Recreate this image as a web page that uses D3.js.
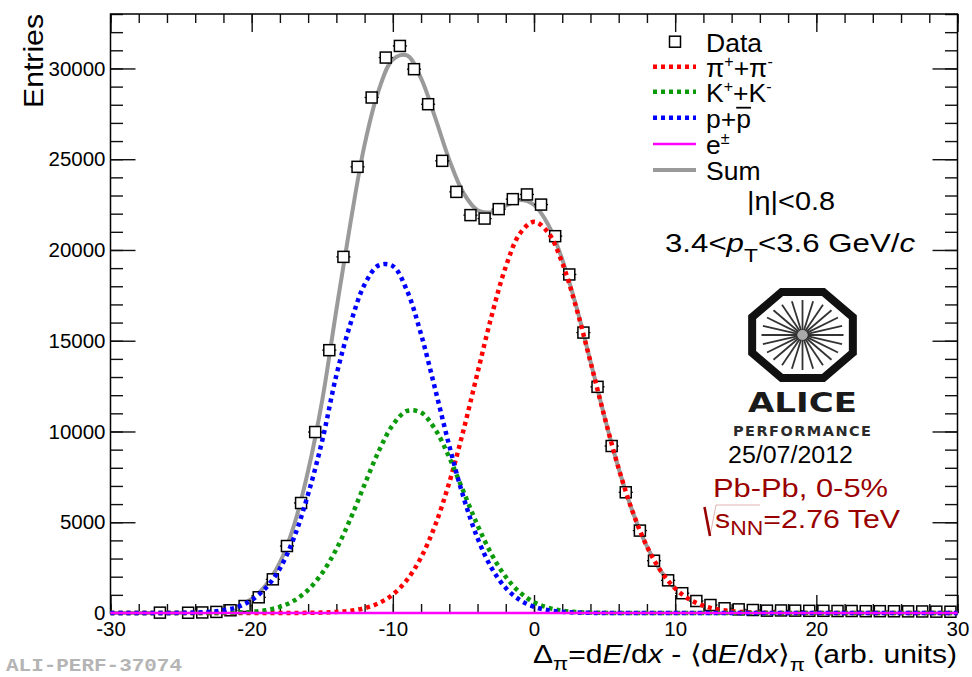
<!DOCTYPE html>
<html>
<head>
<meta charset="utf-8">
<script src="https://cdn.jsdelivr.net/npm/d3@7"></script>
<style>
body { margin: 0; background: #fff; }
</style>
</head>
<body>
<div id="chart"></div>
<script>
// measured histogram: bin centres and entries
const dataX = [-26.5, -24.5, -23.5, -22.5, -21.5, -20.5, -19.5, -18.5, -17.5, -16.5,
    -15.5, -14.5, -13.5, -12.5, -11.5, -10.5, -9.5, -8.5, -7.5, -6.5,
    -5.5, -4.5, -3.5, -2.5, -1.5, -0.5, 0.5, 1.5, 2.5, 3.5,
    4.5, 5.5, 6.5, 7.5, 8.5, 9.5, 10.5, 11.5, 12.5, 13.5,
    14.5, 15.5, 16.5, 17.5, 18.5, 19.5, 20.5, 21.5, 22.5, 23.5,
    24.5, 25.5, 26.5, 27.5, 28.5, 29.5];
const dataY = [20, 15, 30, 60, 150, 385, 865, 1855, 3690, 6060,
    9970, 14480, 19620, 24580, 28400, 30600, 31240, 29960, 28030, 24910,
    23200, 21920, 21730, 22250, 22800, 23060, 22500, 20760, 18650, 15450,
    12460, 9200, 6650, 4540, 2880, 1800, 1090, 660, 440, 260,
    200, 165, 130, 140, 130, 120, 120, 110, 110, 100,
    100, 95, 90, 85, 75, 70];

const fitX = [-30, -29, -28, -27, -26, -25, -24, -23, -22, -21,
    -20, -19, -18, -17, -16, -15, -14, -13, -12, -11,
    -10, -9, -8, -7, -6, -5, -4, -3, -2, -1,
    0, 1, 2, 3, 4, 5, 6, 7, 8, 9,
    10, 11, 12, 13, 14, 15, 16, 17, 18, 19,
    20, 21, 22, 23, 24, 25, 26, 27, 28, 29, 30];
const pionY = [0, 0, 0, 0, 0, 0, 0, 0, 0, 0,
    0, 0, 0, 3, 9, 23, 55, 125, 267, 539,
    1021, 1823, 3062, 4838, 7191, 10057, 13232, 16378, 19076, 20903,
    21550, 20962, 19292, 16798, 13839, 10786, 7956, 5551, 3666, 2289,
    1353, 756, 400, 200, 95, 42, 18, 8, 0, 0,
    0, 0, 0, 0, 0, 0, 0, 0, 0, 0, 0];
const kaonY = [0, 0, 0, 0, 0, 0, 0, 3, 9, 25,
    65, 153, 336, 681, 1275, 2205, 3521, 5195, 7080, 8912,
    10362, 11129, 11041, 10118, 8565, 6697, 4836, 3227, 1988, 1132,
    595, 289, 130, 54, 21, 8, 0, 0, 0, 0,
    0, 0, 0, 0, 0, 0, 0, 0, 0, 0,
    0, 0, 0, 0, 0, 0, 0, 0, 0, 0, 0];
const protonY = [0, 0, 0, 0, 4, 10, 25, 62, 150, 330,
    715, 1380, 2450, 4150, 6550, 9500, 13100, 15940, 18100, 19150,
    19114, 17768, 15353, 12332, 9207, 6391, 4122, 2473, 1378, 714,
    344, 154, 64, 25, 9, 3, 0, 0, 0, 0,
    0, 0, 0, 0, 0, 0, 0, 0, 0, 0,
    0, 0, 0, 0, 0, 0, 0, 0, 0, 0, 0];
const sumY = [0, 0, 0, 0, 4, 10, 25, 65, 159, 355,
    780, 1533, 2786, 4834, 7834, 11728, 16700, 21500, 25800, 28800,
    30497, 30720, 29456, 27288, 24963, 23145, 22190, 22078, 22442, 22749,
    22489, 21405, 19486, 16877, 13869, 10797, 7956, 5551, 3666, 2289,
    1353, 756, 400, 200, 95, 42, 18, 8, 0, 0,
    0, 0, 0, 0, 0, 0, 0, 0, 0, 0, 0];
const electronX = [-30, 30];
const electronY = [0, 0];

// axis ticks
const xMajorTicks = [-30, -20, -10, 0, 10, 20, 30];
const yMajorTicks = [0, 5000, 10000, 15000, 20000, 25000, 30000];
const xMinorTicks = d3.range(-30, 31, 2);
const yMinorTicks = d3.range(0, 33001, 1000);

const width = 972, height = 677;
const frame = {left: 110.5, right: 957.5, top: 14, bottom: 613};
const font = "Liberation Sans, Arial, Helvetica, sans-serif";

let svg = d3.select("#chart")
    .append("svg")
    .attr("width", width)
    .attr("height", height)
    .attr("font-family", font);

let x = d3.scaleLinear().domain([-30, 30]).range([frame.left, frame.right]);
let y = d3.scaleLinear().domain([0, 33000]).range([frame.bottom, frame.top]);

// ticks on all four sides, pointing inward (ROOT style)
function drawAxis(axis, tx, ty, labels) {
    let g = svg.append("g")
        .attr("transform", `translate(${tx},${ty})`)
        .call(axis)
        .attr("font-size", 20.5)
        .attr("font-family", font);
    g.select(".domain").remove();
    g.selectAll("line").attr("stroke", "#111").attr("stroke-width", 1.4);
    if (!labels) g.selectAll("text").remove();
    else g.selectAll("text").attr("fill", "#000");
    return g;
}
drawAxis(d3.axisBottom(x).tickValues(xMinorTicks).tickSize(-9), 0, frame.bottom, false);
drawAxis(d3.axisBottom(x).tickValues(xMajorTicks).tickSize(-18).tickPadding(8)
    .tickFormat(d => String(d)), 0, frame.bottom, true);
drawAxis(d3.axisTop(x).tickValues(xMinorTicks).tickSize(-9), 0, frame.top, false);
drawAxis(d3.axisTop(x).tickValues(xMajorTicks).tickSize(-18), 0, frame.top, false);
drawAxis(d3.axisLeft(y).tickValues(yMinorTicks).tickSize(-12.5), frame.left, 0, false);
drawAxis(d3.axisLeft(y).tickValues(yMajorTicks).tickSize(-25).tickPadding(5)
    .tickFormat(d => String(d)), frame.left, 0, true);
drawAxis(d3.axisRight(y).tickValues(yMinorTicks).tickSize(-12.5), frame.right, 0, false);
drawAxis(d3.axisRight(y).tickValues(yMajorTicks).tickSize(-25), frame.right, 0, false);

// frame
svg.append("rect")
    .attr("x", frame.left).attr("y", frame.top)
    .attr("width", frame.right - frame.left)
    .attr("height", frame.bottom - frame.top)
    .attr("fill", "none").attr("stroke", "#000").attr("stroke-width", 1.5);

let line = d3.line()
    .x(d => x(d[0]))
    .y(d => y(d[1]))
    .curve(d3.curveCatmullRom);

// sum first, the data markers cover it
svg.append("path")
    .attr("d", line(d3.zip(fitX, sumY)))
    .attr("fill", "none").attr("stroke", "#9a9a9a").attr("stroke-width", 4);

// data: open squares with horizontal bin-width bars
const half = 5.5;
let pts = svg.append("g").selectAll("g").data(d3.zip(dataX, dataY)).enter().append("g");
pts.append("line")
    .attr("x1", d => x(d[0] - 0.5)).attr("x2", d => x(d[0] + 0.5))
    .attr("y1", d => y(d[1])).attr("y2", d => y(d[1]))
    .attr("stroke", "#000").attr("stroke-width", 1.3);
pts.append("rect")
    .attr("x", d => x(d[0]) - half).attr("y", d => y(d[1]) - half)
    .attr("width", 2 * half).attr("height", 2 * half)
    .attr("fill", "#fff").attr("stroke", "#000").attr("stroke-width", 1.5);

// fitted particle species
const species = [
    {name: "pion", ys: pionY, color: "#ff0000"},
    {name: "kaon", ys: kaonY, color: "#0a9a0a"},
    {name: "proton", ys: protonY, color: "#0000ff"}
];
species.forEach(function(s) {
    svg.append("path")
        .attr("d", line(d3.zip(fitX, s.ys)))
        .attr("fill", "none").attr("stroke", s.color)
        .attr("stroke-width", 4.5).attr("stroke-dasharray", "4,4");
});
svg.append("path")
    .attr("d", line(d3.zip(electronX, electronY)))
    .attr("fill", "none").attr("stroke", "#ff00ff").attr("stroke-width", 2.5);

// legend
const legRows = [41.7, 66.7, 91.7, 117.7, 144, 170];
const legX1 = 653, legX2 = 696, legText = 706;
let legend = svg.append("g").attr("font-size", 26.5).attr("font-family", font);
legend.append("rect")
    .attr("x", 675 - half).attr("y", legRows[0] - half)
    .attr("width", 2 * half).attr("height", 2 * half)
    .attr("fill", "#fff").attr("stroke", "#000").attr("stroke-width", 1.5);
species.forEach(function(s, i) {
    legend.append("line")
        .attr("x1", legX1).attr("x2", legX2)
        .attr("y1", legRows[i + 1]).attr("y2", legRows[i + 1])
        .attr("stroke", s.color).attr("stroke-width", 4.5).attr("stroke-dasharray", "4,4");
});
legend.append("line").attr("x1", legX1).attr("x2", legX2)
    .attr("y1", legRows[4]).attr("y2", legRows[4])
    .attr("stroke", "#ff00ff").attr("stroke-width", 2.5);
legend.append("line").attr("x1", legX1).attr("x2", legX2)
    .attr("y1", legRows[5]).attr("y2", legRows[5])
    .attr("stroke", "#9a9a9a").attr("stroke-width", 4);

function richText(parent, px, py, parts) {
    let t = parent.append("text").attr("x", px).attr("y", py);
    parts.forEach(function(p) {
        let ts = t.append("tspan").text(p.t);
        if (p.dy) ts.attr("dy", p.dy);
        if (p.size) ts.attr("font-size", p.size);
        if (p.it) ts.attr("font-style", "italic");
    });
    return t;
}
richText(legend, legText, legRows[0] + 10, [{t: "Data"}]);
richText(legend, legText, legRows[1] + 10, [{t: "\u03c0"}, {t: "+", dy: -10, size: 16},
    {t: "+\u03c0", dy: 10}, {t: "-", dy: -10, size: 16}]);
richText(legend, legText, legRows[2] + 10, [{t: "K"}, {t: "+", dy: -10, size: 16},
    {t: "+K", dy: 10}, {t: "-", dy: -10, size: 16}]);
let pbar = richText(legend, legText, legRows[3] + 10, [{t: "p+p"}]);
let pn = pbar.node();
legend.append("line")
    .attr("x1", pn.getStartPositionOfChar(2).x).attr("x2", pn.getEndPositionOfChar(2).x)
    .attr("y1", legRows[3] - 10).attr("y2", legRows[3] - 10)
    .attr("stroke", "#000").attr("stroke-width", 1.8);
richText(legend, legText, legRows[4] + 10, [{t: "e"}, {t: "\u00b1", dy: -10, size: 16}]);
richText(legend, legText, legRows[5] + 10, [{t: "Sum"}]);

// cuts
let info = svg.append("g").attr("font-size", 26).attr("font-family", font);
richText(info, 747, 210, [{t: "|\u03b7|<0.8"}]).attr("textLength", 88).attr("lengthAdjust", "spacingAndGlyphs");
richText(info, 665, 252, [{t: "3.4<"}, {t: "p", it: true}, {t: "T", dy: 10, size: 19},
    {t: "<3.6 GeV/", dy: -10}, {t: "c", it: true}])
    .attr("textLength", 250).attr("lengthAdjust", "spacingAndGlyphs");

// ALICE logo
const logo = {cx: 802.5, cy: 335, rx: 54.5, ry: 46.5};
let oct = d3.range(8).map(function(k) {
    let a = (22.5 + 45 * k) * Math.PI / 180;
    return [logo.cx + logo.rx * Math.cos(a), logo.cy + logo.ry * Math.sin(a)];
});
svg.append("polygon")
    .attr("points", oct.map(p => p.join(",")).join(" "))
    .attr("fill", "#fff").attr("stroke", "#111").attr("stroke-width", 8);
d3.range(0, 360, 15).forEach(function(deg) {
    let a = deg * Math.PI / 180;
    svg.append("line")
        .attr("x1", logo.cx + 5 * Math.cos(a)).attr("y1", logo.cy + 4.3 * Math.sin(a))
        .attr("x2", logo.cx + 41 * Math.cos(a)).attr("y2", logo.cy + 35 * Math.sin(a))
        .attr("stroke", "#333").attr("stroke-width", 1.8);
});
svg.append("circle").attr("cx", logo.cx).attr("cy", logo.cy).attr("r", 5).attr("fill", "#aaa");
svg.append("text").attr("x", 748).attr("y", 412)
    .attr("font-family", "DejaVu Sans, sans-serif").attr("font-weight", "bold")
    .attr("font-size", 27).attr("fill", "#1a1a1a")
    .attr("textLength", 109).attr("lengthAdjust", "spacingAndGlyphs")
    .text("ALICE");
svg.append("text").attr("x", 733).attr("y", 436)
    .attr("font-family", "DejaVu Sans, sans-serif").attr("font-weight", "bold")
    .attr("font-size", 14.5).attr("fill", "#2a2a2a")
    .attr("textLength", 138).attr("lengthAdjust", "spacing")
    .text("PERFORMANCE");
svg.append("text").attr("x", 728).attr("y", 462.5)
    .attr("font-size", 23)
    .attr("textLength", 125).attr("lengthAdjust", "spacingAndGlyphs")
    .text("25/07/2012");

// collision system
let sys = svg.append("g").attr("font-size", 26.5).attr("fill", "#990000");
sys.append("text").attr("x", 713).attr("y", 497)
    .attr("textLength", 175).attr("lengthAdjust", "spacingAndGlyphs")
    .text("Pb-Pb, 0-5%");
richText(sys, 715, 528, [{t: "s"}, {t: "NN", dy: 7, size: 20}, {t: "=2.76 TeV", dy: -7}])
    .attr("textLength", 185).attr("lengthAdjust", "spacingAndGlyphs");
svg.append("path").attr("d", "M704.5,507 L710,536")
    .attr("stroke", "#990000").attr("stroke-width", 2.6).attr("fill", "none");
svg.append("path").attr("d", "M710,536 L716,505 L760,505")
    .attr("stroke", "#990000").attr("stroke-width", 0.6).attr("fill", "none").attr("opacity", 0.5);

// axis titles
svg.append("text")
    .attr("transform", "translate(43,14) rotate(-90)")
    .attr("text-anchor", "end")
    .attr("font-size", 28)
    .attr("textLength", 94).attr("lengthAdjust", "spacingAndGlyphs")
    .text("Entries");
richText(svg, 533, 663, [{t: "\u0394"}, {t: "\u03c0", dy: 7, size: 19}, {t: "=d", dy: -7},
    {t: "E", it: true}, {t: "/d"}, {t: "x", it: true}, {t: " - \u27e8d"}, {t: "E", it: true},
    {t: "/d"}, {t: "x", it: true}, {t: "\u27e9"}, {t: "\u03c0", dy: 8, size: 19},
    {t: " (arb. units)", dy: -8}])
    .attr("font-size", 26)
    .attr("textLength", 424).attr("lengthAdjust", "spacingAndGlyphs");

// figure id
svg.append("text").attr("x", 6).attr("y", 671)
    .attr("font-family", "Liberation Mono, DejaVu Sans Mono, monospace")
    .attr("font-weight", "bold").attr("font-size", 18).attr("fill", "#b4b4b4")
    .attr("textLength", 176).attr("lengthAdjust", "spacingAndGlyphs")
    .text("ALI-PERF-37074");
</script>
</body>
</html>
